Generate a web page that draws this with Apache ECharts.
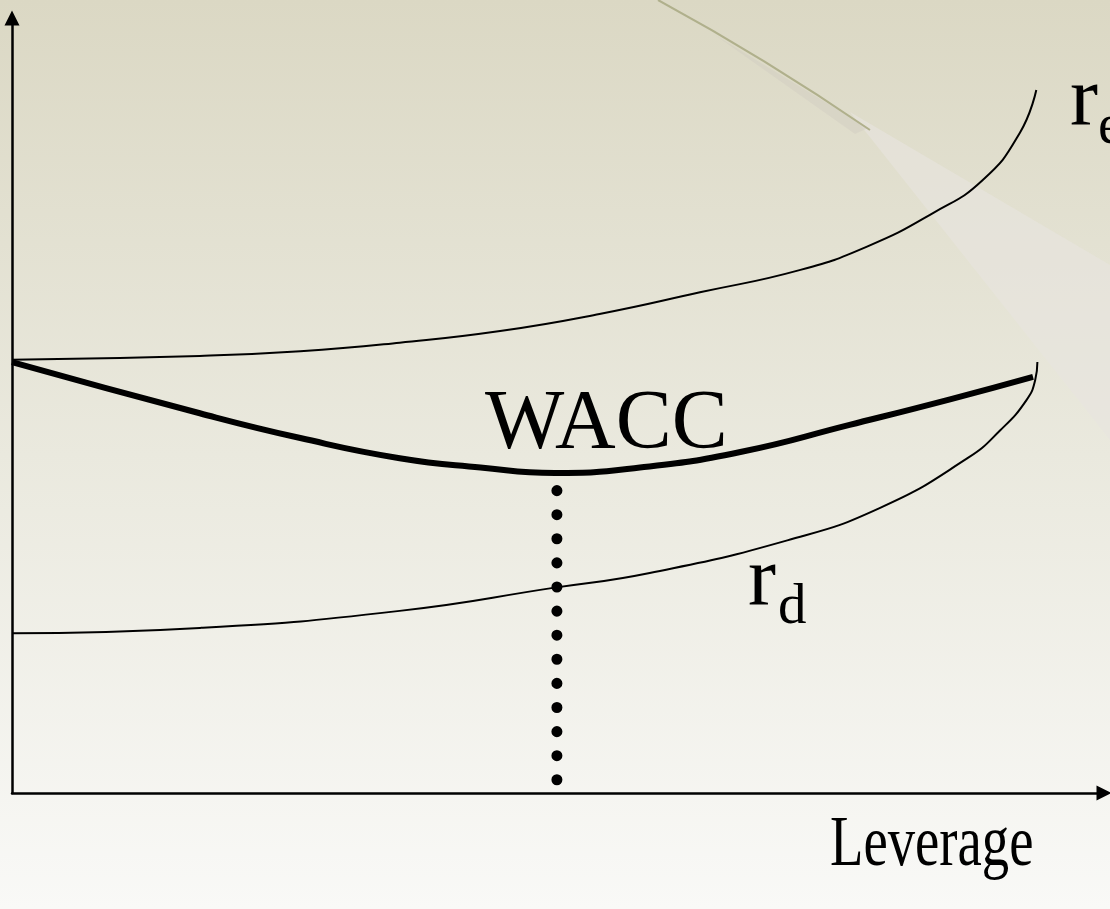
<!DOCTYPE html>
<html>
<head>
<meta charset="utf-8">
<script src="https://cdn.jsdelivr.net/npm/echarts@6/dist/echarts.min.js"></script>
<style>
  html, body { margin: 0; padding: 0; }
  #main { width: 1110px; height: 909px; }
</style>
</head>
<body>
<div id="main"></div>
<script>
var reX   = [0, 17.2, 26.4, 35.5, 44.7, 53.8, 63.0, 72.2, 78.3, 84.3, 88.9, 92.3, 93.8];
var reY   = [55.9, 56.4, 57.0, 58.1, 59.6, 61.8, 64.6, 67.5, 70.5, 74.8, 79.1, 85.2, 90.7];
var waccX = [0, 17.2, 26.4, 35.5, 42.9, 49.7, 57.5, 66.7, 76.7, 85.9, 93.5];
var waccY = [55.6, 49.0, 45.8, 43.2, 42.0, 41.3, 42.0, 44.0, 47.5, 50.8, 53.7];
var rdX   = [0, 17.2, 35.5, 49.7, 58.4, 71.0, 79.5, 87.5, 90.5, 92.9, 93.7, 93.9];
var rdY   = [20.6, 21.3, 23.5, 26.5, 28.4, 32.6, 36.8, 43.2, 46.8, 50.7, 53.3, 55.6];
var optX  = [49.9, 49.9];
var optY  = [1.7, 41.9];

function pairs(xs, ys) {
  var out = [];
  for (var i = 0; i < xs.length; i++) out.push([xs[i], ys[i]]);
  return out;
}

var myChart = echarts.init(document.getElementById('main'));
var serif = "'Liberation Serif', 'Times New Roman', 'DejaVu Serif', serif";

function label(text, x, y, size, extra) {
  var el = { type: 'text', left: x, top: y,
    style: { text: text, font: size + 'px ' + serif, fill: '#000' } };
  if (extra) for (var k in extra) el[k] = extra[k];
  return el;
}

var axisLine = { show: true, lineStyle: { color: '#000', width: 2.5 },
  symbol: ['none', 'triangle'], symbolSize: [15, 15] };

var option = {
  animation: false,
  backgroundColor: {
    type: 'linear', x: 0, y: 0, x2: 0, y2: 1,
    colorStops: [
      { offset: 0, color: '#dbd8c4' },
      { offset: 0.5, color: '#eae9de' },
      { offset: 1, color: '#f9f9f7' }
    ]
  },
  grid: { left: 12, right: 6, top: 18, bottom: 116 },
  xAxis: {
    type: 'value', min: 0, max: 100, axisLine: axisLine,
    axisTick: { show: false }, axisLabel: { show: false }, splitLine: { show: false }
  },
  yAxis: {
    type: 'value', min: 0, max: 100, axisLine: axisLine,
    axisTick: { show: false }, axisLabel: { show: false }, splitLine: { show: false }
  },
  graphic: [
    // decorative swoosh
    { type: 'polygon', z: -1, shape: { points: [[850, 112], [1110, 265], [1110, 440]] },
      style: { fill: 'rgba(232,228,224,0.6)' } },
    { type: 'polygon', z: -1, shape: { points: [[715, 35], [868, 128], [855, 134]] },
      style: { fill: 'rgba(208,205,192,0.45)' } },
    { type: 'bezierCurve', z: -1, shape: { x1: 658, y1: 0, x2: 870, y2: 130, cpx1: 765, cpy1: 58 },
      style: { stroke: '#b0b08c', lineWidth: 2, fill: null } },
    // labels
    label('r', 1070, 60, 84),
    label('e', 1098, 100, 57),
    label('WACC', 485, 384, 84),
    label('r', 748, 540, 84),
    label('d', 778, 580, 57),
    label('Leverage', 830, 810, 72, { scaleX: 0.76 })
  ],
  series: [
    { name: 're', type: 'line', smooth: 0.5, showSymbol: false,
      lineStyle: { color: '#000', width: 2 }, data: pairs(reX, reY) },
    { name: 'WACC', type: 'line', smooth: 0.5, showSymbol: false,
      lineStyle: { color: '#000', width: 6 }, data: pairs(waccX, waccY) },
    { name: 'rd', type: 'line', smooth: 0.5, showSymbol: false,
      lineStyle: { color: '#000', width: 2 }, data: pairs(rdX, rdY) },
    { name: 'optimum', type: 'line', showSymbol: false, z: 3,
      lineStyle: { color: '#000', width: 11, type: [0.1, 24], cap: 'round' },
      data: pairs(optX, optY) }
  ]
};
myChart.setOption(option);
</script>
</body>
</html>
